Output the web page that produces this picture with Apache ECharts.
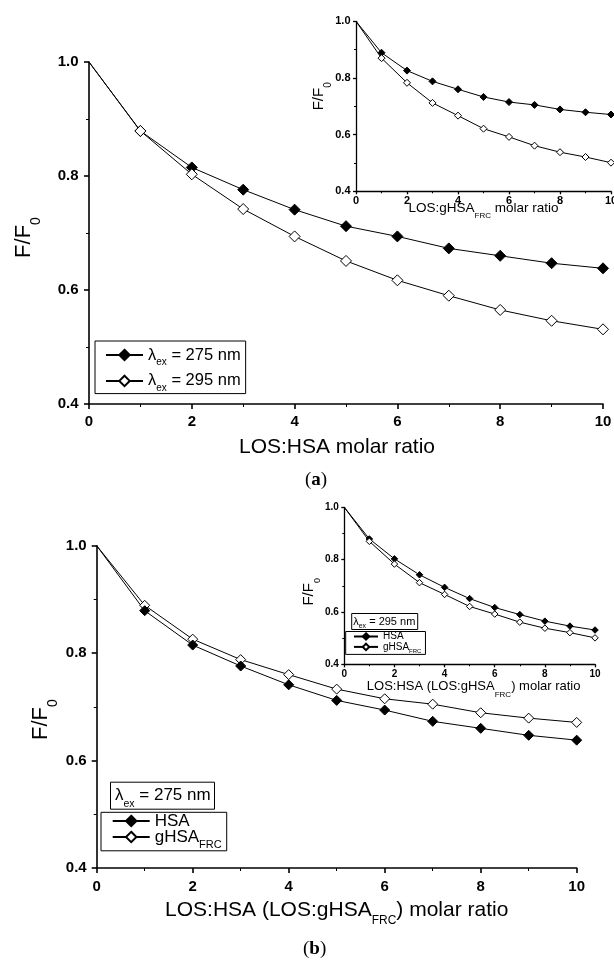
<!DOCTYPE html>
<html>
<head>
<meta charset="utf-8">
<script src="https://cdn.jsdelivr.net/npm/echarts@6/dist/echarts.min.js"></script>
<style>
  html, body { margin: 0; padding: 0; background: #fff; }
  #chart { width: 614px; height: 960px; }
</style>
</head>
<body>
<div id="chart"></div>
<script>
// LOS : albumin molar ratio and relative fluorescence F/F0
const ratio   = [0, 1, 2, 3, 4, 5, 6, 7, 8, 9, 10];
const hsa275  = [1.000, 0.879, 0.815, 0.776, 0.741, 0.712, 0.694, 0.673, 0.660, 0.647, 0.638];
const hsa295  = [1.000, 0.879, 0.803, 0.742, 0.694, 0.651, 0.617, 0.590, 0.565, 0.546, 0.531];
const ghsa275 = [1.000, 0.889, 0.826, 0.788, 0.760, 0.733, 0.715, 0.705, 0.689, 0.679, 0.671];
const ghsa295 = [1.000, 0.870, 0.783, 0.712, 0.667, 0.621, 0.592, 0.561, 0.538, 0.521, 0.501];

// tick labels shared by every panel
const xTicks = [0, 2, 4, 6, 8, 10];
const yTicks = [0.4, 0.6, 0.8, 1.0];

// legend / box captions
const captions = {
  a275: '{m|λ}{s|ex}{m| = 275 nm}',
  a295: '{m|λ}{s|ex}{m| = 295 nm}',
  bHSA: '{m|HSA}',
  bgHSA: '{m|gHSA}{s|FRC}',
  iHSA: '{m|HSA}',
  igHSA: '{m|gHSA}{s|FRC}'
};

const FONT = '"Liberation Sans", Arial, Helvetica, sans-serif';
const SERIF = '"Liberation Serif", "DejaVu Serif", serif';

// rich-text styles for a main run plus a lowered subscript run
function subStyle(main, sub, offset, weight) {
  const line = Math.max(main, Math.ceil(2 * offset + sub) + 1);
  return {
    line: line,
    rich: {
      m: { fontFamily: FONT, fontSize: main, fontWeight: weight || 'normal', color: '#000',
           lineHeight: line, verticalAlign: 'middle' },
      s: { fontFamily: FONT, fontSize: sub, fontWeight: weight || 'normal', color: '#000',
           lineHeight: line, verticalAlign: 'top', padding: [line / 2 + offset - sub / 2, 0, 0, 0] }
    }
  };
}

function xAxisOpt(gi, o) {
  return {
    type: 'value', gridIndex: gi,
    min: xTicks[0], max: xTicks[xTicks.length - 1], interval: xTicks[1] - xTicks[0],
    name: o.name, nameLocation: 'middle', nameGap: o.nameGap, nameMoveOverlap: false,
    nameTextStyle: o.nameStyle,
    axisLine: { show: true, onZero: false, lineStyle: { color: '#000', width: o.lw } },
    axisTick: { show: true, inside: false, length: o.tick, lineStyle: { color: '#000', width: o.lw } },
    minorTick: { show: true, splitNumber: 2, length: o.minor, lineStyle: { color: '#000', width: 1 } },
    splitLine: { show: false }, minorSplitLine: { show: false },
    axisLabel: { show: true, margin: o.margin, fontFamily: FONT, fontWeight: 'bold',
                 fontSize: o.fs, color: '#000', formatter: v => String(v) }
  };
}

function yAxisOpt(gi, o) {
  return {
    type: 'value', gridIndex: gi,
    min: yTicks[0], max: yTicks[yTicks.length - 1], interval: +(yTicks[1] - yTicks[0]).toFixed(2),
    name: o.name, nameLocation: 'middle', nameGap: o.nameGap, nameMoveOverlap: false,
    nameTextStyle: o.nameStyle,
    axisLine: { show: true, onZero: false, lineStyle: { color: '#000', width: o.lw } },
    axisTick: { show: true, inside: false, length: o.tick, lineStyle: { color: '#000', width: o.lw } },
    minorTick: { show: true, splitNumber: 2, length: o.minor, lineStyle: { color: '#000', width: 1 } },
    splitLine: { show: false }, minorSplitLine: { show: false },
    axisLabel: { show: true, margin: o.margin, fontFamily: FONT, fontWeight: 'bold',
                 fontSize: o.fs, color: '#000', formatter: v => v.toFixed(1) }
  };
}

function lineSeries(name, values, gi, filled, size) {
  return {
    name: name, type: 'line', xAxisIndex: gi, yAxisIndex: gi,
    data: ratio.map((x, i) => i === 0 ? { value: [x, values[i]], symbol: 'none' } : [x, values[i]]),
    symbol: 'diamond', symbolSize: size, showAllSymbol: true,
    lineStyle: { color: '#000', width: 1 },
    itemStyle: filled
      ? { color: '#000', borderColor: '#000', borderWidth: 1 }
      : { color: '#fff', borderColor: '#000', borderWidth: 1 },
    emphasis: { disabled: true },
    silent: true
  };
}

// text styles
const yNameMainA = subStyle(22, 14, 12);
const yNameMainB = subStyle(22, 14, 12);
const yNameInsA = subStyle(15, 10, 9);
const yNameInsB = subStyle(15, 9, 8.5);
const xNameMainB = subStyle(21, 12, 10.7);
const xNameInsA = subStyle(13.5, 8, 7.3);
const xNameInsB = subStyle(13, 8, 8.5);
const legA = subStyle(16.5, 10, 7.7);
const legB = subStyle(17, 11, 8.3);
const legI = subStyle(10, 6, 4.5);
const boxB = subStyle(17, 10.5, 7.8);
const boxI = subStyle(11, 7, 4);

const yName = '{m|F/F}{s|0}';

const panelTag = {
  p: { fontFamily: SERIF, fontSize: 19, fontWeight: 'normal', color: '#000' },
  b: { fontFamily: SERIF, fontSize: 19, fontWeight: 'bold', color: '#000' }
};

const option = {
  backgroundColor: '#fff',
  animation: false,
  grid: [
    { left: 89, top: 62, width: 514, height: 342, outerBoundsMode: 'none' },
    { left: 356, top: 21.3, width: 255, height: 170, outerBoundsMode: 'none' },
    { left: 96.7, top: 545.7, width: 480, height: 322.3, outerBoundsMode: 'none' },
    { left: 344.3, top: 507.3, width: 250.7, height: 157, outerBoundsMode: 'none' }
  ],
  xAxis: [
    xAxisOpt(0, { name: 'LOS:HSA molar ratio', nameGap: 33,
      nameStyle: { fontFamily: FONT, fontSize: 21, color: '#000', padding: [0, 18, 0, 0] },
      lw: 1.6, tick: 5, minor: 3, margin: 10, fs: 15 }),
    xAxisOpt(1, { name: '{m|LOS:gHSA}{s|FRC}{m| molar ratio}', nameGap: 5.4,
      nameStyle: { rich: xNameInsA.rich },
      lw: 1.3, tick: 3, minor: 2, margin: 4.5, fs: 11 }),
    xAxisOpt(2, { name: '{m|LOS:HSA (LOS:gHSA}{s|FRC}{m|) molar ratio}', nameGap: 24.5,
      nameStyle: { rich: xNameMainB.rich },
      lw: 1.6, tick: 5, minor: 3, margin: 11.5, fs: 15 }),
    xAxisOpt(3, { name: '{m|LOS:HSA (LOS:gHSA}{s|FRC}{m|) molar ratio}', nameGap: 8.7,
      nameStyle: { rich: xNameInsB.rich, padding: [0, 0, 0, 8] },
      lw: 1.3, tick: 3, minor: 2, margin: 5, fs: 10 })
  ],
  yAxis: [
    yAxisOpt(0, { name: yName, nameGap: 45.5,
      nameStyle: { rich: yNameMainA.rich, padding: [0, 9, 0, 0] },
      lw: 1.6, tick: 5, minor: 3, margin: 10.5, fs: 15 }),
    yAxisOpt(1, { name: yName, nameGap: 22.5,
      nameStyle: { rich: yNameInsA.rich, padding: [0, 0, 0, 20] },
      lw: 1.3, tick: 3, minor: 2, margin: 5.5, fs: 11 }),
    yAxisOpt(2, { name: yName, nameGap: 36.2,
      nameStyle: { rich: yNameMainB.rich, padding: [0, 25.6, 0, 0] },
      lw: 1.6, tick: 5, minor: 3, margin: 10, fs: 15 }),
    yAxisOpt(3, { name: yName, nameGap: 21.8,
      nameStyle: { rich: yNameInsB.rich, padding: [0, 12, 0, 0] },
      lw: 1.3, tick: 3, minor: 2, margin: 5.5, fs: 10 })
  ],
  legend: [
    { data: ['a275', 'a295'], orient: 'vertical', left: 95, top: 341,
      padding: [0.5, 5, 0, 10], itemGap: 26.7 - legA.line, itemWidth: 37, itemHeight: 13,
      borderColor: '#000', borderWidth: 1, borderRadius: 0, selectedMode: false,
      formatter: n => captions[n], textStyle: { rich: legA.rich } },
    { data: ['bHSA', 'bgHSA'], orient: 'vertical', left: 101, top: 812.3,
      padding: [0.2, 5, 0, 10.7], itemGap: 22 - legB.line, itemWidth: 37, itemHeight: 13,
      borderColor: '#000', borderWidth: 1, borderRadius: 0, selectedMode: false,
      formatter: n => captions[n], textStyle: { rich: legB.rich } },
    { data: ['iHSA', 'igHSA'], orient: 'vertical', left: 345.7, top: 631.5,
      padding: [0, 4, 0, 7.3], itemGap: 13.4 - legI.line, itemWidth: 24, itemHeight: 8,
      borderColor: '#000', borderWidth: 1, borderRadius: 0, selectedMode: false,
      formatter: n => captions[n], textStyle: { rich: legI.rich } }
  ],
  title: [
    { text: '{m|λ}{s|ex}{m| = 275 nm}', left: 110.3, top: 781.7, padding: [0, 4, 0, 4.7],
      borderColor: '#000', borderWidth: 1, textStyle: { rich: boxB.rich } },
    { text: '{m|λ}{s|ex}{m| = 295 nm}', left: 351.7, top: 613.3, padding: [0.7, 3, 0.7, 1.5],
      borderColor: '#000', borderWidth: 1, textStyle: { rich: boxI.rich } },
    { text: '{p|(}{b|a}{p|)}', left: 305, top: 471, padding: 0, textStyle: { rich: panelTag } },
    { text: '{p|(}{b|b}{p|)}', left: 303, top: 940, padding: 0, textStyle: { rich: panelTag } }
  ],
  series: [
    // (a) main: HSA at two excitation wavelengths
    lineSeries('a275', hsa275, 0, true, 11),
    lineSeries('a295', hsa295, 0, false, 11),
    // (a) inset: gHSA_FRC at two excitation wavelengths
    lineSeries('ia275', ghsa275, 1, true, 7),
    lineSeries('ia295', ghsa295, 1, false, 7),
    // (b) main: HSA vs gHSA_FRC at 275 nm
    lineSeries('bgHSA', ghsa275, 2, false, 10),
    lineSeries('bHSA', hsa275, 2, true, 10),
    // (b) inset: HSA vs gHSA_FRC at 295 nm
    lineSeries('iHSA', hsa295, 3, true, 6.5),
    lineSeries('igHSA', ghsa295, 3, false, 6.5)
  ]
};

const chart = echarts.init(document.getElementById('chart'), null, { renderer: 'canvas' });
chart.setOption(option);
</script>
</body>
</html>
